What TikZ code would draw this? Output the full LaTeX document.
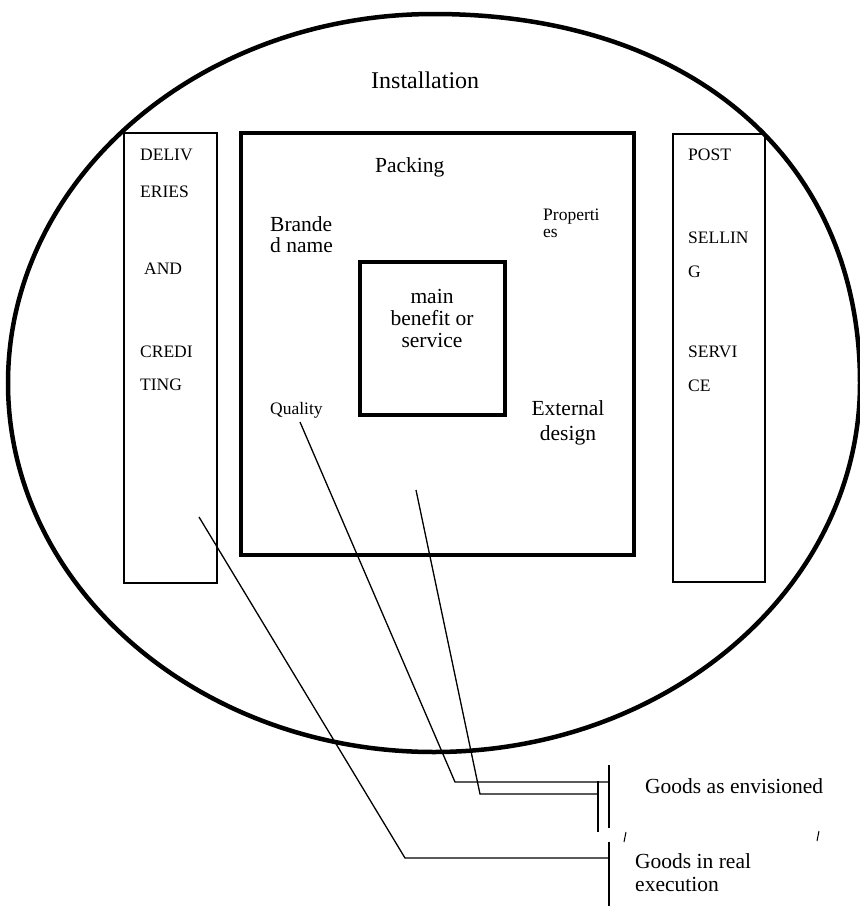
\documentclass[tikz,border=0pt]{standalone}
\usepackage{fontspec}
\setmainfont{Liberation Serif}
\begin{document}
\begin{tikzpicture}[x=1pt,y=-1pt,
  bigtxt/.style={font=\fontsize{21.5}{22}\selectfont, inner sep=0pt},
  smalltxt/.style={font=\fontsize{17.5}{18}\selectfont, inner sep=0pt},
  coltxt/.style={smalltxt, anchor=base west},
  thickbox/.style={draw, line width=4pt},
  thinbox/.style={draw, line width=1.4pt},
  leader/.style={draw, line width=1.3pt},
  bracket/.style={draw, line width=1.5pt}]
\useasboundingbox (0,0) rectangle (860,906);

% outer oval: augmented product (slightly fuller in the upper right)
\draw[line width=4.5pt]
  (860,383) .. controls (860,160) and (692,14) .. (434,14)
            .. controls (199,14) and (8,179) .. (8,383)
            .. controls (8,587) and (199,752) .. (434,752)
            .. controls (669,752) and (860,587) .. (860,383) -- cycle;
\node[bigtxt, font=\fontsize{24}{26}\selectfont, anchor=base west] (inst) at (371,88) {Installation};

% side columns
\draw[thinbox] (124,133) rectangle (217,583);
\draw[thinbox] (673,134) rectangle (765,582);

\node[coltxt] (d1) at (140,160) {DELIV};
\node[coltxt] (d2) at (140,197) {ERIES};
\node[coltxt] (d3) at (144,274) {AND};
\node[coltxt] (d4) at (140,357) {CREDI};
\node[coltxt] (d5) at (140,390) {TING};

\node[coltxt] (p1) at (688,160) {POST};
\node[coltxt] (p2) at (688,243) {SELLIN};
\node[coltxt] (p3) at (688,277) {G};
\node[coltxt] (p4) at (688,357) {SERVI};
\node[coltxt] (p5) at (688,391) {CE};

% actual product
\draw[thickbox] (241,133) rectangle (634,555);
\node[bigtxt, anchor=base west] (pack) at (375,172) {Packing};
\node[bigtxt, anchor=base west] (brand) at (270,231) {Brande};
\node[bigtxt, anchor=base west] (brand2) at (270,252) {d name};
\node[smalltxt, anchor=base west] (prop) at (543,220) {Properti};
\node[smalltxt, anchor=base west] (prop2) at (543,237) {es};
\node[smalltxt, anchor=base west] (qual) at (270,414) {Quality};
\node[bigtxt, anchor=base] (ext) at (568,415) {External};
\node[bigtxt, anchor=base] (ext2) at (568,440) {design};

% core product
\draw[thickbox] (360,262) rectangle (505,415);
\node[bigtxt, anchor=base] (core1) at (432,303) {main};
\node[bigtxt, anchor=base] (core2) at (432,325) {benefit or};
\node[bigtxt, anchor=base] (core3) at (432,347) {service};

% legend labels
\node[bigtxt, anchor=base west] (envis) at (645,793) {Goods as envisioned};
\node[bigtxt, anchor=base west] (real1) at (635,868) {Goods in real};
\node[bigtxt, anchor=base west] (real2) at (635,891) {execution};

% brackets
\coordinate (bA1) at (609,765); \coordinate (bA2) at (609,828);
\coordinate (bB1) at (598,781); \coordinate (bB2) at (598,832);
\coordinate (bC1) at (609,842); \coordinate (bC2) at (609,906);
\draw[bracket] (bA1) -- (bA2);
\draw[line width=1.1pt] (bB1) -- (bB2);
\draw[bracket] (bC1) -- (bC2);

% leader lines
\coordinate (qs) at (300,422);  \coordinate (qk) at (455,782);
\coordinate (ms) at (416,490);  \coordinate (mk) at (480,794);
\coordinate (ds) at (199,517);  \coordinate (dk) at (405,858);
\draw[leader] (qs) -- (qk) -- (609,782);
\draw[leader] (ms) -- (mk) -- (598,794);
\draw[leader] (ds) -- (dk) -- (609,858);

% small stray marks
\coordinate (t1a) at (624,842); \coordinate (t1b) at (626,832);
\coordinate (t2a) at (817,841); \coordinate (t2b) at (819,831);
\draw[line width=1pt] (t1a) -- (t1b);
\draw[line width=1pt] (t2a) -- (t2b);
\end{tikzpicture}
\end{document}
